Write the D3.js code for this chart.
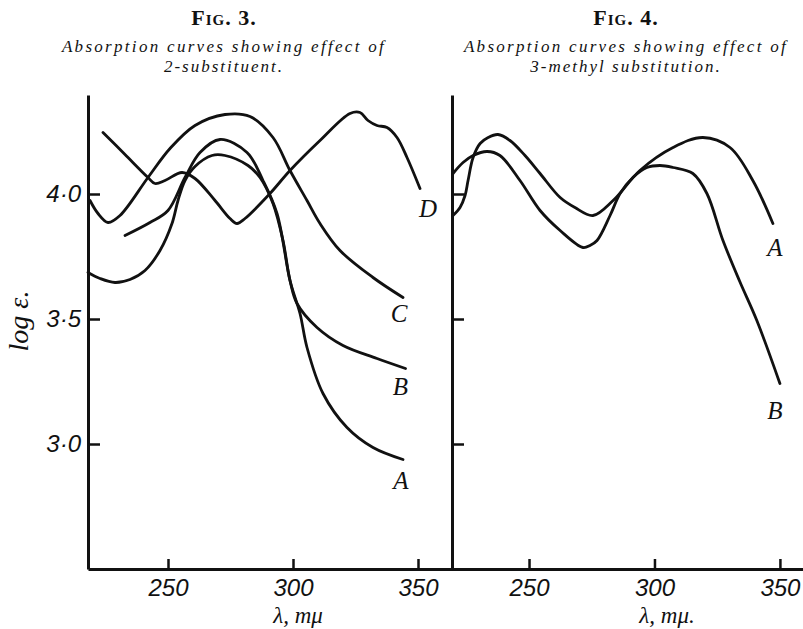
<!DOCTYPE html>
<html>
<head>
<meta charset="utf-8">
<script src="https://cdn.jsdelivr.net/npm/d3@7"></script>
<style>
  body { margin: 0; background: #fff; }
  svg text { fill: #111; }
</style>
</head>
<body>
<div id="chart"></div>
<script>

// Fig. 3 curves, [wavelength mµ, log e]
var fig3A = [[218,3.686],[222.8,3.662],[228.8,3.646],[234.8,3.658],[240.8,3.694],[246.8,3.774],[251.6,3.882],[254,3.974],[256.8,4.054],[260.8,4.11],[267.6,4.154],[272.8,4.154],[282,4.114],[286.8,4.066],[292,3.962],[296,3.814],[298.8,3.654],[302.8,3.522],[305.6,3.386],[312,3.202],[321.6,3.066],[332,2.986],[344,2.938]];
var fig3B = [[232.8,3.834],[242.8,3.886],[250,3.934],[256.8,4.066],[262.8,4.166],[270.8,4.218],[281.6,4.166],[288,4.054],[293.6,3.922],[298.8,3.654],[301.6,3.562],[309.6,3.466],[320,3.394],[333.6,3.342],[345,3.302]];
var fig3C = [[218.8,3.974],[222,3.922],[226,3.886],[230.8,3.914],[242,4.066],[250.8,4.182],[260.8,4.274],[272.8,4.318],[282.8,4.31],[292,4.226],[298.8,4.094],[305.6,3.974],[310.8,3.882],[318.8,3.774],[332,3.666],[344,3.586]];
var fig3D = [[224,4.246],[232.8,4.158],[242,4.066],[244.8,4.042],[248.8,4.054],[255.6,4.086],[260.8,4.062],[268.8,3.974],[274.8,3.902],[277.6,3.882],[280.8,3.902],[290.8,4.002],[298.8,4.094],[310.8,4.214],[322.8,4.322],[326.8,4.326],[330,4.294],[333.6,4.274],[337.6,4.266],[341.6,4.226],[345.6,4.146],[350.8,4.022]];

// Fig. 4 curves
var fig4A = [[219.7,3.914],[222.5,3.946],[224.5,3.994],[225.7,4.054],[227.7,4.146],[230.5,4.202],[233.7,4.226],[237.6,4.238],[242.4,4.214],[248.4,4.154],[254.4,4.082],[262.4,3.986],[268.3,3.946],[275.5,3.914],[283.5,3.974],[294.2,4.094],[307.4,4.186],[319.3,4.226],[330.1,4.186],[339.2,4.054],[347.2,3.882]];
var fig4B = [[219.7,4.082],[223.7,4.126],[227.7,4.154],[233.3,4.17],[238.4,4.154],[246.4,4.054],[254.4,3.934],[262.4,3.854],[271.5,3.786],[274.3,3.794],[277.1,3.814],[282.3,3.914],[286.3,4.002],[291.4,4.066],[297,4.106],[302.2,4.114],[307.4,4.106],[315.3,4.082],[320.9,4.002],[327.3,3.814],[334,3.65],[340.8,3.494],[350,3.242]];

var xTicks = [250, 300, 350];
var yTicks = [3.0, 3.5, 4.0];
var yTickLabels = ["3·0", "3·5", "4·0"];

var svg = d3.select("#chart").append("svg")
    .attr("width", 803)
    .attr("height", 629);

var y = d3.scaleLinear().domain([2.5, 4.396]).range([569, 95]);
var x3 = d3.scaleLinear().domain([218, 364]).range([88, 453]);
var x4 = d3.scaleLinear().domain([219.3, 359.2]).range([452, 803]);

drawPanel(x3, true, "λ, mμ", 298);
drawPanel(x4, false, "λ, mμ.", 667);

drawCurve(x3, fig3A); drawCurve(x3, fig3B); drawCurve(x3, fig3C); drawCurve(x3, fig3D);
drawCurve(x4, fig4A); drawCurve(x4, fig4B);

// curve letters
curveLabel(x3, fig3D, "D", 8, 28);
curveLabel(x3, fig3C, "C", -4, 24);
curveLabel(x3, fig3B, "B", -5, 26);
curveLabel(x3, fig3A, "A", -2, 29);
curveLabel(x4, fig4A, "A", 2, 32);
curveLabel(x4, fig4B, "B", -5, 35);

// titles
drawTitle(224, "Fig. 3.", "Absorption curves showing effect of", "2-substituent.");
drawTitle(626, "Fig. 4.", "Absorption curves showing effect of", "3-methyl substitution.");

svg.append("text")
    .attr("transform", "translate(28,321) rotate(-90)")
    .attr("text-anchor", "middle")
    .style("font-family", "Liberation Serif")
    .style("font-style", "italic")
    .style("font-size", "28px")
    .text("log ε.");

function drawPanel(x, showLabels, xTitle, xTitleX){
  var xAxis = d3.axisBottom(x).tickValues(xTicks).tickSizeInner(-10).tickSizeOuter(0).tickPadding(12);
  var gx = svg.append("g").attr("transform", "translate(0," + y.range()[0] + ")").call(xAxis);

  var yAxis = d3.axisLeft(y).tickValues(yTicks).tickSizeInner(-12).tickSizeOuter(0).tickPadding(7)
      .tickFormat(function(d, i){ return showLabels ? yTickLabels[i] : ""; });
  var gy = svg.append("g").attr("transform", "translate(" + x.range()[0] + ",0)").call(yAxis);

  [gx, gy].forEach(function(g){
    g.select(".domain").attr("stroke", "#111").attr("stroke-width", 3);
    g.selectAll(".tick line").attr("stroke", "#111").attr("stroke-width", 2.5);
    g.selectAll(".tick text")
      .attr("fill", "#111")
      .style("font-family", "Liberation Sans")
      .style("font-style", "italic")
      .style("font-size", "24px");
  });
  gx.selectAll(".tick text").attr("dy", "0.62em");

  svg.append("text")
      .attr("x", xTitleX)
      .attr("y", 623)
      .attr("text-anchor", "middle")
      .style("font-family", "Liberation Serif")
      .style("font-style", "italic")
      .style("font-size", "23px")
      .text(xTitle);
}

function drawCurve(x, pts){
  var line = d3.line()
      .x(function(d){ return x(d[0]); })
      .y(function(d){ return y(d[1]); })
      .curve(d3.curveCatmullRom.alpha(0.5));
  svg.append("path")
      .datum(pts)
      .attr("d", line)
      .attr("fill", "none")
      .attr("stroke", "#111")
      .attr("stroke-width", 2.8)
      .attr("stroke-linecap", "round");
}

function curveLabel(x, pts, name, dx, dy){
  var last = pts[pts.length - 1];
  svg.append("text")
      .attr("x", x(last[0]) + dx)
      .attr("y", y(last[1]) + dy)
      .attr("text-anchor", "middle")
      .style("font-family", "Liberation Serif")
      .style("font-style", "italic")
      .style("font-size", "25px")
      .text(name);
}

function drawTitle(cx, fig, line1, line2){
  svg.append("text")
      .attr("x", cx)
      .attr("y", 25)
      .attr("text-anchor", "middle")
      .style("font-family", "Liberation Serif")
      .style("font-variant", "small-caps")
      .style("font-weight", "bold")
      .style("font-size", "22px")
      .style("letter-spacing", "1px")
      .text(fig);
  svg.append("text")
      .attr("x", cx)
      .attr("y", 52)
      .attr("text-anchor", "middle")
      .style("font-family", "Liberation Serif")
      .style("font-style", "italic")
      .style("font-size", "17px")
      .style("letter-spacing", "2.3px")
      .text(line1);
  svg.append("text")
      .attr("x", cx)
      .attr("y", 72)
      .attr("text-anchor", "middle")
      .style("font-family", "Liberation Serif")
      .style("font-style", "italic")
      .style("font-size", "17px")
      .style("letter-spacing", "2px")
      .text(line2);
}
</script>
</body>
</html>
